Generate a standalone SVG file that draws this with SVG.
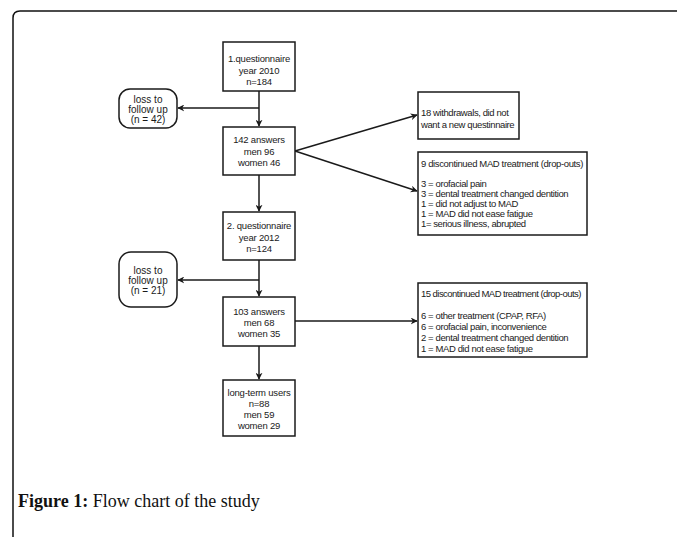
<svg xmlns="http://www.w3.org/2000/svg" width="677" height="537" viewBox="0 0 677 537">
<style>
.box{fill:#fff;stroke:#1a1a1a;stroke-width:1.5}
.t{font-family:"Liberation Sans",Arial,sans-serif;font-size:9.5px;fill:#1a1a1a;letter-spacing:-0.2px}
.r{letter-spacing:-0.4px}
.l{font-size:10px;letter-spacing:0}
.c{text-anchor:middle}
.ln{fill:none;stroke:#1a1a1a;stroke-width:1.5}
.cap{font-family:"Liberation Serif","Times New Roman",serif;font-size:18px;fill:#111}
</style>
<defs>
<marker id="ar" viewBox="0 0 10 10" refX="9" refY="5" markerWidth="7" markerHeight="7" markerUnits="userSpaceOnUse" orient="auto">
<path d="M0,0 L10,5 L0,10 L3,5 Z" fill="#1a1a1a"/>
</marker>
</defs>
<rect width="677" height="537" fill="#fff"/>
<path d="M13,537 L13,18 Q13,11 20,11 L677,11" fill="none" stroke="#111" stroke-width="1.5"/>

<g id="connectors">
<line class="ln" x1="259" y1="91" x2="259" y2="126" marker-end="url(#ar)"/>
<line class="ln" x1="259" y1="108" x2="178" y2="108" marker-end="url(#ar)"/>
<line class="ln" x1="295" y1="151" x2="417" y2="115" marker-end="url(#ar)"/>
<line class="ln" x1="295" y1="151" x2="417" y2="191" marker-end="url(#ar)"/>
<line class="ln" x1="259" y1="175" x2="259" y2="211" marker-end="url(#ar)"/>
<line class="ln" x1="259" y1="260" x2="259" y2="296" marker-end="url(#ar)"/>
<line class="ln" x1="259" y1="280" x2="178" y2="280" marker-end="url(#ar)"/>
<line class="ln" x1="295" y1="321" x2="417" y2="321" marker-end="url(#ar)"/>
<line class="ln" x1="259" y1="346" x2="259" y2="379" marker-end="url(#ar)"/>
</g>

<g id="q1">
<rect class="box" x="223" y="42" width="72" height="49"/>
<text class="t c" x="259" y="62">1.questionnaire</text>
<text class="t c" x="259" y="74">year 2010</text>
<text class="t c" x="259" y="85">n=184</text>
</g>

<g id="loss1">
<rect class="box" x="119" y="89" width="58" height="39" rx="11" ry="11"/>
<text class="t l c" x="148" y="103">loss to</text>
<text class="t l c" x="148" y="113">follow up</text>
<text class="t l c" x="148" y="123">(n = 42)</text>
</g>

<g id="a142">
<rect class="box" x="223" y="127" width="72" height="48"/>
<text class="t c" x="259" y="143">142 answers</text>
<text class="t c" x="259" y="155">men 96</text>
<text class="t c" x="259" y="166">women 46</text>
</g>

<g id="w18">
<rect class="box" x="418" y="92" width="101" height="47"/>
<text class="t r" x="421" y="116">18 withdrawals, did not</text>
<text class="t r" x="421" y="128">want a new questinnaire</text>
</g>

<g id="d9">
<rect class="box" x="418" y="152" width="169" height="83"/>
<text class="t r" x="421" y="167" textLength="162" lengthAdjust="spacing">9 discontinued MAD treatment (drop-outs)</text>
<text class="t r" x="421" y="187">3 = orofacial pain</text>
<text class="t r" x="421" y="197">3 = dental treatment changed dentition</text>
<text class="t r" x="421" y="207">1 = did not adjust to MAD</text>
<text class="t r" x="421" y="217">1 = MAD did not ease fatigue</text>
<text class="t r" x="421" y="227">1= serious illness, abrupted</text>
</g>

<g id="q2">
<rect class="box" x="223" y="212" width="72" height="48"/>
<text class="t c" x="259" y="229">2. questionnaire</text>
<text class="t c" x="259" y="241">year 2012</text>
<text class="t c" x="259" y="252">n=124</text>
</g>

<g id="loss2">
<rect class="box" x="119" y="252" width="58" height="55" rx="12" ry="12"/>
<text class="t l c" x="148" y="274">loss to</text>
<text class="t l c" x="148" y="284">follow up</text>
<text class="t l c" x="148" y="294">(n = 21)</text>
</g>

<g id="a103">
<rect class="box" x="223" y="297" width="72" height="49"/>
<text class="t c" x="259" y="315">103 answers</text>
<text class="t c" x="259" y="326">men 68</text>
<text class="t c" x="259" y="337">women 35</text>
</g>

<g id="d15">
<rect class="box" x="418" y="283" width="169" height="74"/>
<text class="t r" x="421" y="297" textLength="160" lengthAdjust="spacing">15 discontinued MAD treatment (drop-outs)</text>
<text class="t r" x="421" y="319">6 = other treatment (CPAP, RFA)</text>
<text class="t r" x="421" y="330">6 = orofacial pain, inconvenience</text>
<text class="t r" x="421" y="341">2 = dental treatment changed dentition</text>
<text class="t r" x="421" y="352">1 = MAD did not ease fatigue</text>
</g>

<g id="lt">
<rect class="box" x="223" y="380" width="72" height="56"/>
<text class="t c" x="259" y="396">long-term users</text>
<text class="t c" x="259" y="407">n=88</text>
<text class="t c" x="259" y="418">men 59</text>
<text class="t c" x="259" y="429">women 29</text>
</g>

<text class="cap" x="18" y="507"><tspan font-weight="bold">Figure 1:</tspan> Flow chart of the study</text>
</svg>
